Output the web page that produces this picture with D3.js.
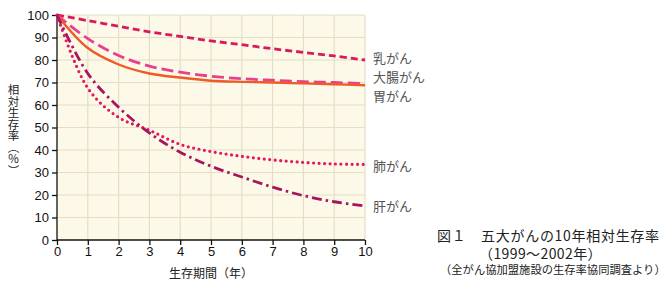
<!DOCTYPE html>
<html>
<meta charset="UTF-8">
<head>
<style>
  body { margin: 0; background: #fff; }
  svg text { font-family: "Noto Sans CJK JP", sans-serif; }
  .num text, text.num { font-family: "Liberation Sans", Arial, sans-serif; }
</style>
</head>
<body>
<svg id="chart" width="665" height="286"></svg>
<script src="https://cdn.jsdelivr.net/npm/d3@7"></script>
<script>
// data
const years = [0, 1, 2, 3, 4, 5, 6, 7, 8, 9, 10];
const breast    = [100, 97.5, 95, 92.5, 90.5, 88.5, 86.8, 85, 83.4, 81.8, 80];
const colorectal = [100, 89.5, 82, 77.3, 74.6, 72.8, 71.7, 71, 70.4, 70, 69.5];
const stomach   = [100, 85.3, 78, 74, 72.2, 70.8, 70.3, 70, 69.6, 69.2, 68.8];
const lung      = [100, 67.5, 54.5, 48.8, 42.5, 39.3, 37.2, 35.6, 34.5, 33.8, 33.6];
const liver     = [100, 74, 59, 47.6, 39, 32.8, 28, 23.5, 19.7, 17, 15.1];
const yTicks = [0, 10, 20, 30, 40, 50, 60, 70, 80, 90, 100];
const seriesNames = ["乳がん", "大腸がん", "胃がん", "肺がん", "肝がん"];

const svg = d3.select("#chart");
const x = d3.scaleLinear().domain([0, 10]).range([57, 365]);
const y = d3.scaleLinear().domain([0, 100]).range([240, 15]);

// plot background + grid
svg.append("rect").attr("x", x(0)).attr("y", y(100))
  .attr("width", x(10) - x(0)).attr("height", y(0) - y(100))
  .attr("fill", "#fdf9e9");
svg.append("g").selectAll("line").data(years.slice(1)).join("line")
  .attr("x1", d => x(d)).attr("x2", d => x(d))
  .attr("y1", y(0)).attr("y2", y(100))
  .attr("stroke", "#e4dec6").attr("stroke-width", 1.2);
svg.append("g").selectAll("line").data(yTicks.slice(1)).join("line")
  .attr("x1", x(0)).attr("x2", x(10))
  .attr("y1", d => y(d)).attr("y2", d => y(d))
  .attr("stroke", "#e4dec6").attr("stroke-width", 1.2);

// axes
const yAxis = svg.append("g").attr("class", "num")
  .attr("transform", `translate(${x(0)},0)`)
  .call(d3.axisLeft(y).tickValues(yTicks).tickSize(5).tickPadding(3));
const xAxis = svg.append("g").attr("class", "num")
  .attr("transform", `translate(0,${y(0)})`)
  .call(d3.axisBottom(x).tickValues(years).tickSize(5).tickPadding(2));
[yAxis, xAxis].forEach(a => {
  a.selectAll("text").attr("font-size", 13).attr("fill", "#111");
  a.selectAll("line, path").attr("stroke", "#111").attr("stroke-width", 1.3);
});
xAxis.select(".domain").attr("d", `M${x(0)},0H${x(10)}`);
yAxis.select(".domain").attr("d", `M0,${y(0)}V${y(100)}`);

// lines
const line = d3.line().x((d, i) => x(years[i])).y(d => y(d)).curve(d3.curveCatmullRom.alpha(0.5));
const series = [
  { v: breast, color: "#d81a5c", dash: "7 4", w: 2.8, cap: "butt" },
  { v: colorectal, color: "#e8418b", dash: "12 5", w: 2.8, cap: "butt" },
  { v: stomach, color: "#ef5a26", dash: null, w: 2.4, cap: "butt" },
  { v: lung, color: "#e3175e", dash: "0 5.5", w: 3.2, cap: "round" },
  { v: liver, color: "#a8155f", dash: "10 4 2.5 4", w: 2.8, cap: "butt" }
];
svg.append("g").selectAll("path").data(series).join("path")
  .attr("d", d => line(d.v))
  .attr("fill", "none")
  .attr("stroke", d => d.color)
  .attr("stroke-width", d => d.w)
  .attr("stroke-linecap", d => d.cap)
  .attr("stroke-dasharray", d => d.dash);

// series labels on the right
const labelY = [63, 82, 101, 171, 211];
svg.append("g").selectAll("text").data(seriesNames).join("text")
  .attr("x", 373).attr("y", (d, i) => labelY[i])
  .attr("font-size", 13).attr("fill", "#555").text(d => d);

// y axis title, vertical writing
svg.append("text")
  .attr("x", 13.5).attr("y", 84)
  .style("writing-mode", "vertical-rl")
  .attr("font-size", 11.5).attr("fill", "#222")
  .text("相対生存率（％）");

// x axis title
svg.append("text").attr("x", x(5)).attr("y", 278).attr("text-anchor", "middle")
  .attr("font-size", 12).attr("fill", "#222").text("生存期間（年）");

// caption (one text block, three lines)
const cap = svg.append("text").attr("fill", "#222");
cap.append("tspan").attr("x", 437).attr("y", 241).attr("font-size", 14)
  .attr("letter-spacing", 0.7).text("図１　五大がんの10年相対生存率");
cap.append("tspan").attr("x", 479).attr("y", 259).attr("font-size", 14)
  .attr("letter-spacing", 0.4).text("（1999～2002年）");
cap.append("tspan").attr("x", 440).attr("y", 274).attr("font-size", 11.3)
  .text("（全がん協加盟施設の生存率協同調査より）");
</script>
</body>
</html>
